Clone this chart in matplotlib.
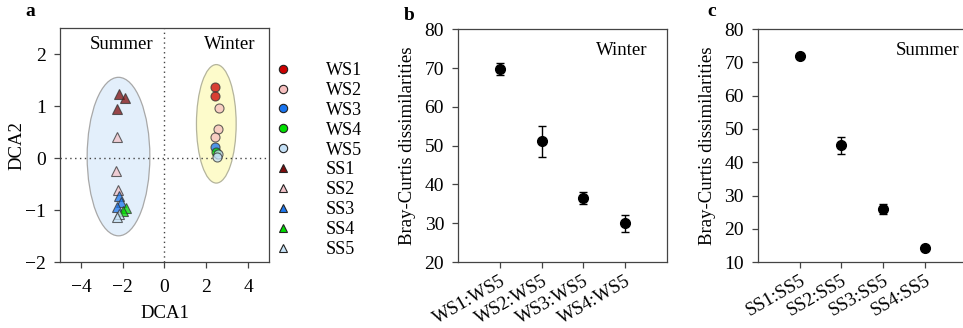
import matplotlib
matplotlib.use("Agg")
import matplotlib.pyplot as plt
from matplotlib.patches import Ellipse
from matplotlib.lines import Line2D

plt.rcParams['font.family'] = ['Liberation Serif', 'DejaVu Serif']
plt.rcParams['font.size'] = 13

###### DCA data (panel a)
groups = ["WS1", "WS2", "WS3", "WS4", "WS5", "SS1", "SS2", "SS3", "SS4", "SS5"]
dca_x = {
    "WS1": [2.40, 2.40],
    "WS2": [2.62, 2.55, 2.43],
    "WS3": [2.41],
    "WS4": [2.46],
    "WS5": [2.57, 2.50],
    "SS1": [-2.18, -1.90, -2.27],
    "SS2": [-2.25, -2.30, -2.22],
    "SS3": [-2.18, -2.10, -2.25],
    "SS4": [-1.85, -2.00],
    "SS5": [-2.20, -2.27],
}
dca_y = {
    "WS1": [1.36, 1.20],
    "WS2": [0.96, 0.57, 0.41],
    "WS3": [0.22],
    "WS4": [0.12],
    "WS5": [0.08, 0.03],
    "SS1": [1.24, 1.15, 0.94],
    "SS2": [0.41, -0.25, -0.62],
    "SS3": [-0.72, -0.85, -0.94],
    "SS4": [-0.96, -1.02],
    "SS5": [-1.07, -1.13],
}
colors = {
    "WS1": "#cc0000", "WS2": "#f7c0c0", "WS3": "#1874f0", "WS4": "#00e000", "WS5": "#c4e0f6",
    "SS1": "#7f0d0d", "SS2": "#f2c2c8", "SS3": "#1e78f0", "SS4": "#00dd00", "SS5": "#c8e4f8",
}

###### Bray-Curtis data (panels b, c)
winter_labels = ["WS1:WS5", "WS2:WS5", "WS3:WS5", "WS4:WS5"]
winter_mean = [69.7, 51.1, 36.5, 30.0]
winter_err = [1.5, 4.0, 1.5, 2.2]

summer_labels = ["SS1:SS5", "SS2:SS5", "SS3:SS5", "SS4:SS5"]
summer_mean = [72.0, 45.1, 26.0, 14.2]
summer_err = [0.5, 2.5, 1.6, 0.5]

fig = plt.figure(figsize=(9.63, 3.28), dpi=100)
ax_a = fig.add_axes([0.0623, 0.201, 0.217, 0.713])
ax_b = fig.add_axes([0.4756, 0.201, 0.217, 0.710])
ax_c = fig.add_axes([0.787, 0.201, 0.217, 0.710])

##### panel a
ax_a.add_patch(Ellipse((-2.2, 0.03), 3.0, 3.05, facecolor="#e3effb", edgecolor="#a8a8a8", lw=0.9, zorder=1))
ax_a.add_patch(Ellipse((2.48, 0.66), 1.9, 2.28, facecolor="#fdfbcb", edgecolor="#b4b49c", lw=0.9, zorder=1))
ax_a.axhline(0, color="#444444", ls=(0, (1, 2.5)), lw=1, zorder=2)
ax_a.axvline(0, color="#444444", ls=(0, (1, 2.5)), lw=1, zorder=2)

handles = []
for g in groups:
    mk = "o" if g.startswith("W") else "^"
    ax_a.plot(dca_x[g], dca_y[g], ls="none", marker=mk, ms=6.5, mfc=colors[g],
              mec="#333333", mew=0.8, alpha=0.75, zorder=3)
    handles.append(Line2D([], [], ls="none", marker=mk, ms=6, mfc=colors[g],
                          mec="#222222", mew=0.8, label=g))

ax_a.set_xlim(-5, 5)
ax_a.set_ylim(-2, 2.5)
ax_a.set_xticks([-4, -2, 0, 2, 4])
ax_a.set_yticks([-2, -1, 0, 1, 2])
ax_a.set_xlabel("DCA1", fontsize=13.5, labelpad=7)
ax_a.set_ylabel("DCA2", fontsize=13.5, labelpad=0)
ax_a.text(-2.05, 2.19, "Summer", ha="center", va="center", fontsize=13.5)
ax_a.text(3.1, 2.19, "Winter", ha="center", va="center", fontsize=13.5)
ax_a.legend(handles=handles, loc="upper left", bbox_to_anchor=(0.945, 0.925), frameon=False,
            fontsize=13, handletextpad=1.9, labelspacing=0.16, handlelength=1.0, borderaxespad=0.5)
ax_a.tick_params(axis="x", pad=8)


def dissim_panel(ax, labels, mean, err, ymin, ticks, season):
    xs = list(range(len(labels)))
    ax.errorbar(xs, mean, yerr=err, fmt="o", color="black", ms=7, capsize=3, elinewidth=1, capthick=1)
    ax.set_xlim(-1, 4)
    ax.set_ylim(ymin, 80)
    ax.set_yticks(ticks)
    ax.set_xticks(xs)
    ax.set_xticklabels(labels, rotation=30, ha="right", rotation_mode="anchor", fontsize=13.5)
    ax.set_ylabel("Bray-Curtis dissimilarities", fontsize=13.5, labelpad=6)
    ax.text(0.66, 0.91, season, transform=ax.transAxes, ha="left", va="center", fontsize=13.5)


for ax in (ax_a, ax_b, ax_c):
    for s in ax.spines.values():
        s.set_color("#444444")
        s.set_linewidth(0.9)
    ax.tick_params(direction="out", length=4, width=0.9, color="#444444", labelsize=14)
    ax.tick_params(axis="y", pad=6)

dissim_panel(ax_b, winter_labels, winter_mean, winter_err, 20, range(20, 81, 10), "Winter")
dissim_panel(ax_c, summer_labels, summer_mean, summer_err, 10, range(10, 81, 10), "Summer")

fig.text(30 / 963, 1 - 12 / 328, "a", fontsize=14, fontweight="bold", ha="center", va="center")
fig.text(409 / 963, 1 - 16 / 328, "b", fontsize=14, fontweight="bold", ha="center", va="center")
fig.text(712 / 963, 1 - 12 / 328, "c", fontsize=14, fontweight="bold", ha="center", va="center")

fig.savefig("out.png", dpi=100)
